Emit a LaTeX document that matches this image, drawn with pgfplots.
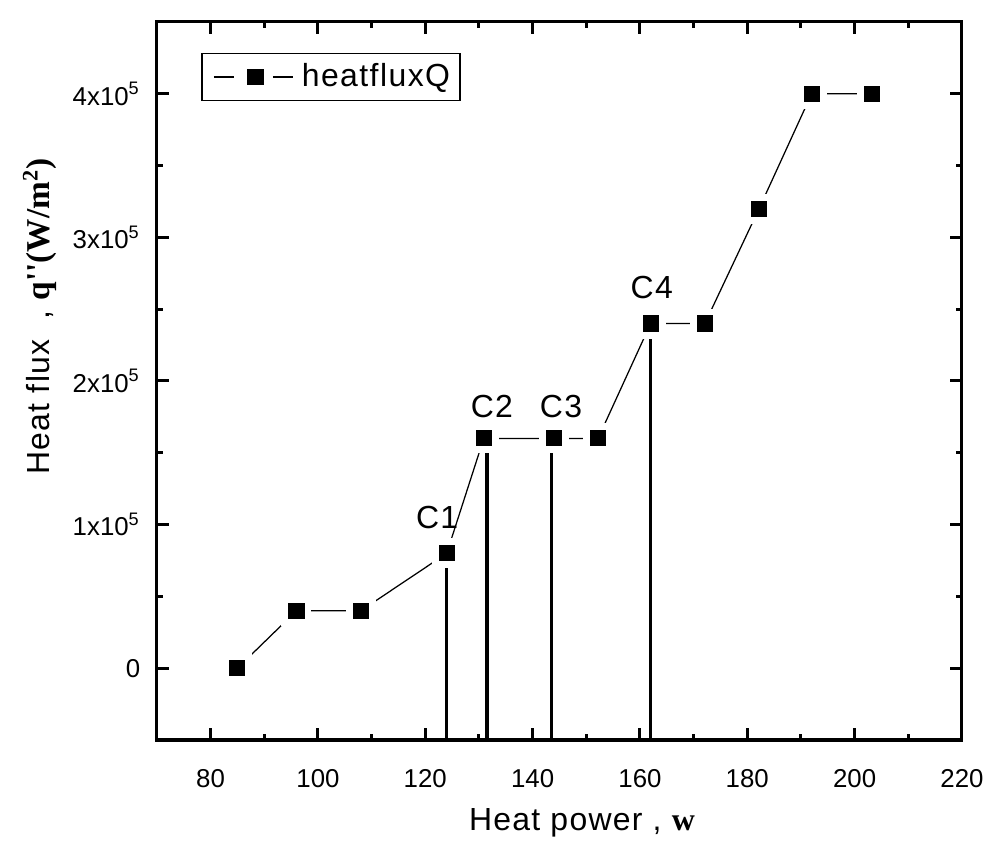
\documentclass[border=0pt]{standalone}
\usepackage{fontspec}
\setmainfont{Liberation Sans}
\newfontfamily\tnr{Liberation Serif}
\newfontfamily\legfont[LetterSpace=4.5]{Liberation Sans}
\newfontfamily\labfont[LetterSpace=4]{Liberation Sans}
\usepackage{pgfplots}
\pgfplotsset{compat=1.18}

\pgfplotstableread{
x     y
85    0
96    40000
108   40000
124   80000
130.9 160000
144   160000
152.2 160000
162   240000
172.1 240000
182.2 320000
192   400000
203.2 400000
}\heatdata

\begin{document}
\begin{tikzpicture}
\begin{axis}[
    scale only axis,
    width=289.8pt, height=258.5pt,
    xmin=70, xmax=220,
    ymin=-50000, ymax=450000,
    xtick={80,100,...,220},
    minor x tick num=1,
    ytick={0,100000,200000,300000,400000},
    yticklabels={0,1x10\textsuperscript{5},2x10\textsuperscript{5},3x10\textsuperscript{5},4x10\textsuperscript{5}},
    minor y tick num=1,
    scaled y ticks=false,
    /pgf/number format/assume math mode=true,
    tick label style={font=\fontsize{9.3}{10}\selectfont},
    xticklabel style={yshift=-7pt},
    yticklabel style={xshift=-2.5pt},
    axis line style={line width=1.1pt},
    major tick length=4.3pt,
    minor tick length=2.2pt,
    every tick/.style={black,line width=1.1pt},
    xlabel={\labfont Heat power , {\tnr\bfseries w}},
    ylabel={\labfont Heat flux \ , {\tnr\bfseries\fontsize{12}{14}\selectfont q''(W/m\textsuperscript{2})}},
    label style={font=\fontsize{11.5}{13}\selectfont},
    xlabel style={at={(axis description cs:0.528,-0.1156)},anchor=center},
    ylabel style={at={(axis description cs:-0.1453,0.59)},anchor=center},
    legend style={at={(axis description cs:0.055,0.957)},anchor=north west,
        draw=black,line width=0.6pt,font=\legfont\fontsize{11.5}{13}\selectfont,
        inner sep=1.5pt},
]
% connecting line
\addplot[black,line width=0.45pt,no markers,forget plot] table[x=x,y=y]{\heatdata};
% white halo (gaps around markers)
\addplot[only marks,mark=square*,mark size=5.2pt,mark options={fill=white,draw=white},forget plot] table[x=x,y=y]{\heatdata};
% vertical lines
\addplot[black,line width=1.1pt,forget plot] coordinates {(124,-50000)(124,80000)};
\addplot[black,line width=1.1pt,forget plot] coordinates {(131.5,-50000)(131.5,160000)};
\addplot[black,line width=1.1pt,forget plot] coordinates {(143.6,-50000)(143.6,160000)};
\addplot[black,line width=1.1pt,forget plot] coordinates {(162,-50000)(162,240000)};
% markers
\addplot[only marks,mark=square*,mark size=2.7pt,mark options={fill=black,draw=black},
    legend image code/.code={
        \path (0pt,0pt);
        \draw[black,line width=0.45pt] (2.5pt,0pt) -- (9.7pt,0pt);
        \fill[black] (14.7pt,-2.7pt) rectangle (20.1pt,2.7pt);
        \draw[black,line width=0.45pt] (23.7pt,0pt) -- (30.9pt,0pt);
    }] table[x=x,y=y]{\heatdata};
\addlegendentry{\hspace{1pt}heatfluxQ}

\node[font=\labfont\fontsize{11.5}{13}\selectfont] at (axis cs:122.2,105000) {C1};
\node[font=\labfont\fontsize{11.5}{13}\selectfont] at (axis cs:132.4,182000) {C2};
\node[font=\labfont\fontsize{11.5}{13}\selectfont] at (axis cs:145.3,182000) {C3};
\node[font=\labfont\fontsize{11.5}{13}\selectfont] at (axis cs:162.2,265000) {C4};
\end{axis}
\path (current axis.south west) ++(-56.5pt,-40.3pt) coordinate (bbA);
\path (current axis.north east) ++(15.5pt,7.9pt) coordinate (bbB);
\path (bbA) rectangle (bbB);
\end{tikzpicture}
\end{document}
